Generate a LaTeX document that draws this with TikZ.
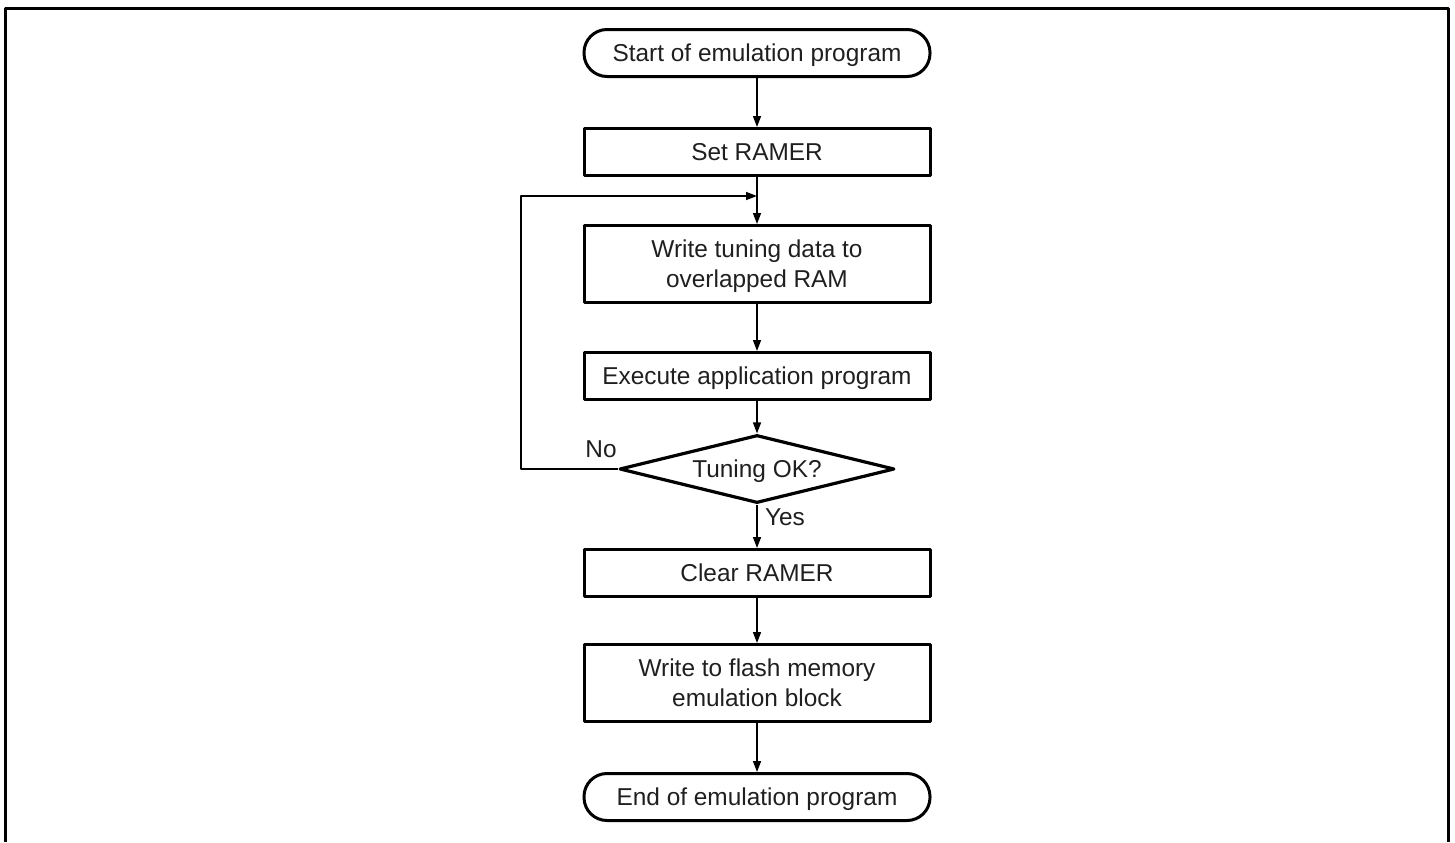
\documentclass[tikz,border=0pt]{standalone}
\usepackage{fontspec}
\setmainfont{Liberation Sans}
\usetikzlibrary{arrows.meta,shapes.geometric}

\begin{document}
\begin{tikzpicture}[x=0.5pt,y=-0.5pt,>={Triangle[length=5.5pt,width=4pt]},line join=round,
  every node/.style={font=\fontsize{12.2}{15}\selectfont,text=black!88},
  procbox/.style={draw,line width=1.5pt,minimum width=173pt,minimum height=23.5pt,inner sep=1pt,align=center,text depth=0pt},
  termbox/.style={procbox,rounded corners=11.5pt},
  decbox/.style={draw,diamond,aspect=4,line width=1.6pt,minimum width=137.5pt,minimum height=34pt,inner sep=1pt,text depth=0pt},
  flow/.style={line width=0.75pt}]
  \useasboundingbox (0,0) rectangle (1455,842);
  % frame
  \draw[line width=1.6pt] (5.5,842) -- (5.5,8.5) -- (1448.5,8.5) -- (1448.5,842);
  % steps
  \node[termbox] (start) at (757,53) {Start of emulation program};
  \node[procbox] (set) at (757,152) {Set RAMER};
  \node[procbox,minimum height=38.5pt] (tune) at (757,264) {Write tuning data to\\overlapped RAM};
  \node[procbox] (exec) at (757,376) {Execute application program};
  \node[decbox] (ok) at (757,469) {Tuning OK?};
  \node[procbox] (clear) at (757,573) {Clear RAMER};
  \node[procbox,minimum height=38.5pt] (flash) at (757,683) {Write to flash memory\\emulation block};
  \node[termbox] (stop) at (757,797) {End of emulation program};
  \coordinate (join) at (757,196);
  \coordinate (loopA) at (521,469);
  \coordinate (loopB) at (521,196);
  % connectors
  \draw[flow,->] (start) -- (set);
  \draw[flow] (set) -- (join);
  \draw[flow,->] (join) -- (tune);
  \draw[flow,->] (tune) -- (exec);
  \draw[flow,->] (exec) -- (ok);
  \draw[flow,->] (ok) -- (clear);
  \draw[flow,->] (clear) -- (flash);
  \draw[flow,->] (flash) -- (stop);
  \draw[flow,->] (ok.west) -- (loopA) -- (loopB) -- (join);
  % labels
  \node (nolabel) at (601,449) {No};
  \node (yeslabel) at (785,517) {Yes};
\end{tikzpicture}
\end{document}
